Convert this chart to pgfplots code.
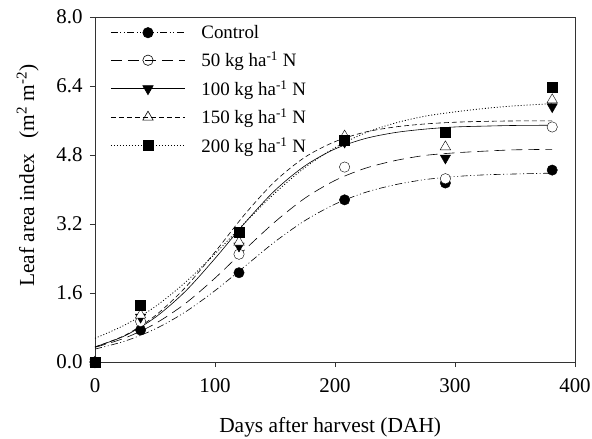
\documentclass[border=0pt]{standalone}
\usepackage{fontspec}
\setmainfont{Liberation Serif}
\usepackage{pgfplots}
\pgfplotsset{compat=1.18}
\begin{document}
\begin{tikzpicture}
\path[use as bounding box] (-95bp,-77bp) rectangle (497bp,362bp);
\begin{axis}[
  at={(0,0)}, anchor=south west,
  scale only axis, width=480bp, height=345bp,
  xmin=0, xmax=400, ymin=0, ymax=8,
  xtick={0,100,200,300,400},
  ytick={0,1.6,3.2,4.8,6.4,8.0},
  yticklabel style={xshift=-4bp, /pgf/number format/.cd, fixed, fixed zerofill, precision=1},
  /pgf/number format/assume math mode=true,
  tick label style={font=\fontsize{21}{23}\selectfont, black},
  xticklabel style={yshift=-8bp},
  tick align=outside, xtick pos=bottom, ytick pos=left,
  major tick length=5bp, minor tick num=0,
  axis line style={black!80, line width=0.9bp},
  every tick/.style={black!80, line width=0.9bp},
  clip=false,
  every axis x label/.style={at={(axis description cs:0.49,-0.19)}, anchor=center},
  every axis y label/.style={at={(axis description cs:-0.14,0.54)}, rotate=90, anchor=center},
  label style={font=\fontsize{21.5}{23}\selectfont},
  xlabel={Days after harvest (DAH)},
  ylabel={Leaf area index\hspace{0.7em}(m\textsuperscript{2} m\textsuperscript{-2})},
  legend style={draw=none, fill=none, at={(axis description cs:0.03,0.985)}, anchor=north west,
    font=\fontsize{19}{21}\selectfont, row sep=8bp, inner sep=1bp},
  legend cell align=left,
  legend image code/.code={\draw[mark repeat=2,mark phase=2,#1] plot coordinates {(0bp,0bp) (37bp,0bp) (74bp,0bp)}; \path (88bp,0bp);},
]
% legend images
\addlegendimage{black, line width=0.6bp, dash pattern=on 7bp off 2.5bp on 1bp off 2.5bp on 1bp off 2.5bp, mark=*, mark size=5.2bp, mark options={solid, fill=black}}
\addlegendentry{Control}
\addlegendimage{black, line width=0.6bp, dash pattern=on 11bp off 6bp, mark=o, mark size=5.2bp, mark options={solid}}
\addlegendentry{50 kg ha\textsuperscript{-1} N}
\addlegendimage{black, line width=0.6bp, solid, mark=triangle*, mark size=6bp, mark options={solid, rotate=180, fill=black}}
\addlegendentry{100 kg ha\textsuperscript{-1} N}
\addlegendimage{black, line width=0.6bp, dash pattern=on 5bp off 3bp, mark=triangle, mark size=6bp, mark options={solid}}
\addlegendentry{150 kg ha\textsuperscript{-1} N}
\addlegendimage{black, line width=0.8bp, dash pattern=on 1bp off 2bp, mark=square*, mark size=5bp, mark options={solid, fill=black}}
\addlegendentry{200 kg ha\textsuperscript{-1} N}

% fitted curves
\addplot[forget plot, black, line width=0.6bp, smooth, dash pattern=on 7bp off 2.5bp on 1bp off 2.5bp on 1bp off 2.5bp] coordinates {
(0,0.30)(25,0.485)(50,0.764)(75,1.155)(100,1.655)(125,2.22)(150,2.79)(175,3.28)(200,3.66)(225,3.93)(250,4.11)(275,4.23)(300,4.30)(325,4.34)(350,4.36)(381,4.38)};
\addplot[forget plot, black, line width=0.6bp, smooth, dash pattern=on 11bp off 6bp] coordinates {
(0,0.34)(25,0.557)(50,0.887)(75,1.35)(100,1.945)(125,2.61)(150,3.25)(175,3.80)(200,4.21)(225,4.49)(250,4.67)(275,4.79)(300,4.85)(325,4.89)(350,4.92)(381,4.93)};
\addplot[forget plot, black, line width=0.6bp, smooth, solid] coordinates {
(0,0.35)(25,0.61)(50,1.03)(75,1.63)(100,2.40)(125,3.23)(150,3.98)(175,4.55)(200,4.94)(225,5.18)(250,5.32)(275,5.40)(300,5.45)(325,5.47)(350,5.485)(381,5.49)};
\addplot[forget plot, black, line width=0.6bp, smooth, dash pattern=on 5bp off 3bp] coordinates {
(0,0.35)(25,0.62)(50,1.07)(75,1.72)(100,2.55)(125,3.43)(150,4.19)(175,4.75)(200,5.11)(225,5.33)(250,5.45)(275,5.52)(300,5.56)(325,5.58)(350,5.59)(381,5.59)};
\addplot[forget plot, black, line width=0.8bp, smooth, dash pattern=on 1bp off 2bp] coordinates {
(0,0.55)(25,0.86)(50,1.28)(75,1.84)(100,2.51)(125,3.23)(150,3.92)(175,4.51)(200,4.97)(225,5.31)(250,5.54)(275,5.70)(300,5.80)(325,5.88)(350,5.94)(381,5.99)};

% observed data
\addplot[forget plot, only marks, mark=*, mark size=5.2bp, fill=black, draw=black] coordinates {
(0,0)(38,0.74)(120,2.07)(208,3.76)(292,4.15)(381,4.45)};
\addplot[forget plot, only marks, mark=*, mark size=5.2bp, draw=black, fill=white] coordinates {
(0,0)(38,0.94)(120,2.5)(208,4.52)(292,4.25)(381,5.45)};
\addplot[forget plot, only marks, mark=triangle*, mark size=6bp, draw=black, fill=black, mark options={rotate=180}] coordinates {
(0,0)(38,1.04)(120,2.69)(208,5.1)(292,4.73)(381,5.92)};
\addplot[forget plot, only marks, mark=triangle*, mark size=6bp, draw=black, fill=white] coordinates {
(0,0)(38,1.09)(120,2.78)(208,5.24)(292,4.99)(381,6.08)};
\addplot[forget plot, only marks, mark=square*, mark size=5bp, draw=black, fill=black] coordinates {
(0,0)(38,1.32)(120,3.02)(208,5.15)(292,5.34)(381,6.38)};
\end{axis}
\end{tikzpicture}
\end{document}
